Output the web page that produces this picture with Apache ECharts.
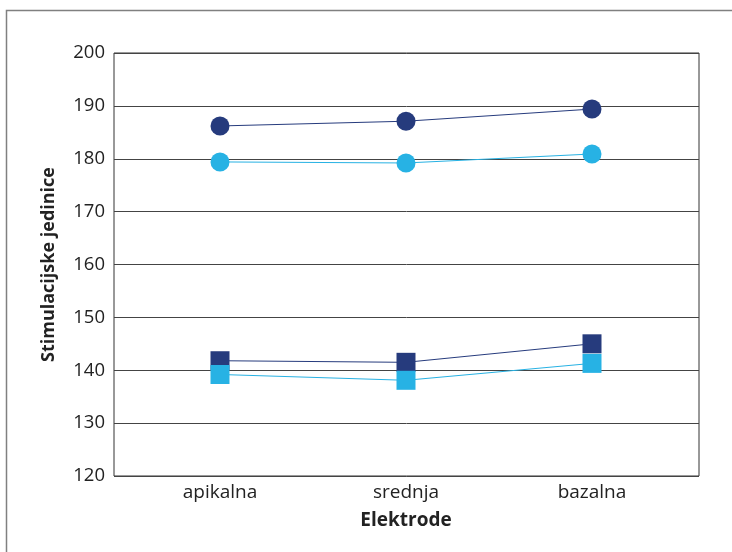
<!DOCTYPE html>
<html>
<head>
<meta charset="utf-8">
<script src="https://cdn.jsdelivr.net/npm/echarts@6/dist/echarts.min.js"></script>
<style>html,body{margin:0;padding:0;background:#fff}#c{width:732px;height:552px}</style>
</head>
<body>
<div id="c"></div>
<script>
var categories = ['apikalna', 'srednja', 'bazalna'];
var darkCircles = [186.2, 187.1, 189.4];
var lightCircles = [179.4, 179.2, 180.9];
var darkSquares = [141.8, 141.5, 145.0];
var lightSquares = [139.2, 138.1, 141.3];
var yMin = 120, yMax = 200, yStep = 10;
var xTitle = 'Elektrode';
var yTitle = 'Stimulacijske jedinice';

var DARK = '#263b7d', LIGHT = '#27b2e4';
var font = '"Open Sans", sans-serif';

function ser(data, color, symbol, z) {
  return {
    type: 'line', xAxisIndex: 1, yAxisIndex: 1, data: data,
    symbol: symbol, symbolSize: 19, showSymbol: true,
    lineStyle: { color: color, width: 1 },
    itemStyle: { color: color },
    z: z, animation: false
  };
}

var chart = echarts.init(document.getElementById('c'));
chart.setOption({
  animation: false,
  backgroundColor: '#fff',
  grid: [
    { left: 114, right: 33, top: 53, bottom: 76, show: true, borderColor: '#333', borderWidth: 1 },
    { left: 127, right: 47, top: 53, bottom: 76 }
  ],
  xAxis: [
    { gridIndex: 0, type: 'value', min: 0, max: 1, show: false },
    { gridIndex: 1, type: 'category', data: categories, boundaryGap: true,
      axisLine: { show: false }, axisTick: { show: false },
      axisLabel: { color: '#222', fontFamily: font, fontSize: 19, margin: 7 },
      name: xTitle, nameLocation: 'middle', nameGap: 35,
      nameTextStyle: { color: '#222', fontFamily: font, fontSize: 19, fontWeight: 'bold' } }
  ],
  yAxis: [
    { gridIndex: 0, type: 'value', min: yMin, max: yMax, interval: yStep,
      axisLine: { show: false }, axisTick: { show: false },
      splitLine: { show: true, lineStyle: { color: '#444', width: 1 } },
      axisLabel: { color: '#222', fontFamily: font, fontSize: 18.5, margin: 9 },
      name: yTitle, nameLocation: 'middle', nameGap: 56, nameRotate: 90,
      nameTextStyle: { color: '#222', fontFamily: font, fontSize: 18, fontWeight: 'bold' } },
    { gridIndex: 1, type: 'value', min: yMin, max: yMax, interval: yStep, show: false }
  ],
  graphic: [
    { type: 'polyline', shape: { points: [[6.5, 560], [6.5, 10.5], [740, 10.5]] },
      style: { stroke: '#808080', lineWidth: 1.5, fill: null }, silent: true }
  ],
  series: [
    ser(darkCircles, DARK, 'circle', 3),
    ser(lightCircles, LIGHT, 'circle', 4),
    ser(darkSquares, DARK, 'rect', 3),
    ser(lightSquares, LIGHT, 'rect', 4)
  ]
});
</script>
</body>
</html>
